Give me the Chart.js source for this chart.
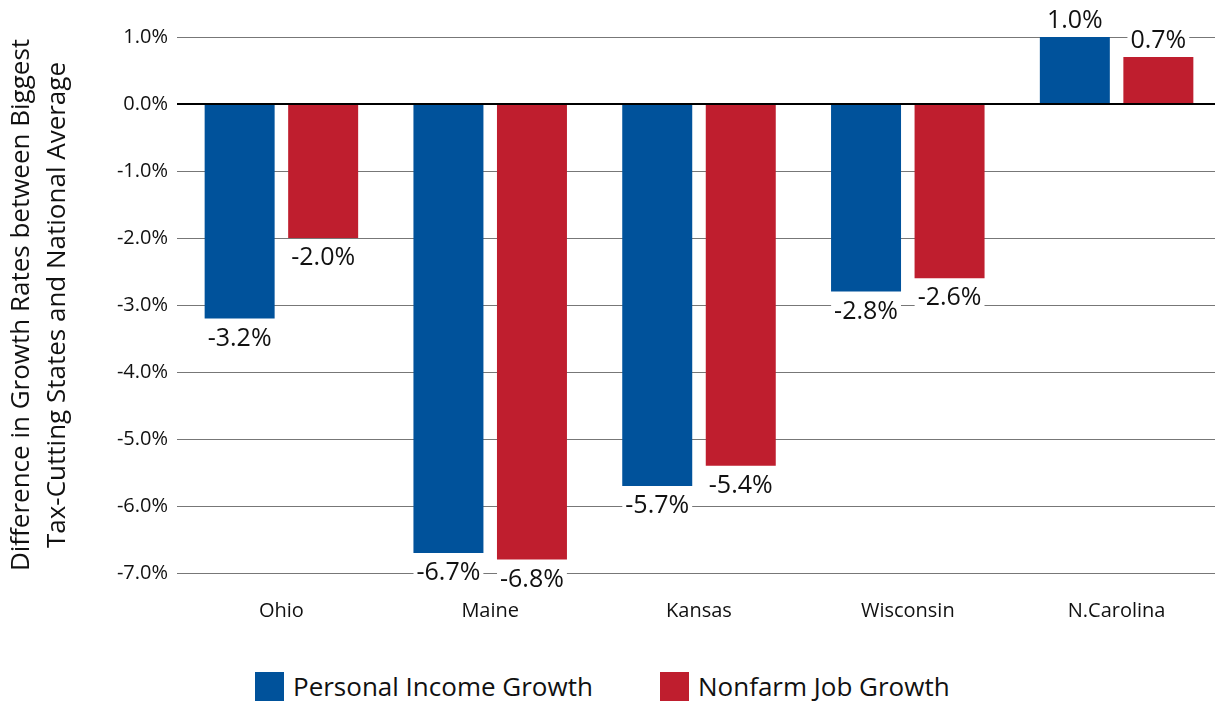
<!DOCTYPE html>
<html>
<head>
<meta charset="utf-8">
<script src="https://cdn.jsdelivr.net/npm/chart.js@4"></script>
<style>
  html, body { margin: 0; padding: 0; background: #fff; overflow: hidden; font-family: 'Open Sans', sans-serif; }
  #wrap { width: 1221px; height: 663px; }
  #legend { position: absolute; top: 672px; left: 0; width: 1215px; height: 32px; }
  .item { position: absolute; top: 0; display: flex; align-items: center; font-size: 26px; color: #111; line-height: 29px; }
  .swatch { width: 29px; height: 29px; margin-right: 9px; }
</style>
</head>
<body>
<div id="wrap"><canvas id="chart"></canvas></div>
<div id="legend"></div>
<script>
// States and series values (difference vs national average, %)
const states = ["Ohio", "Maine", "Kansas", "Wisconsin", "N.Carolina"];
const incomeGrowth = [-3.2, -6.7, -5.7, -2.8, 1.0];
const jobGrowth = [-2.0, -6.8, -5.4, -2.6, 0.7];
const seriesNames = ["Personal Income Growth", "Nonfarm Job Growth"];
const seriesColors = ["#00529b", "#bf1e2e"];
const axisTitle = ["Difference in Growth Rates between Biggest", "Tax-Cutting States and National Average"];

const FONT = "'Open Sans', sans-serif";

// value labels with white background, under negative bars / over positive ones
const barLabels = {
    id: "barLabels",
    afterDatasetsDraw(chart) {
        const ctx = chart.ctx;
        ctx.save();
        ctx.font = "25px " + FONT;
        ctx.textAlign = "center";
        chart.data.datasets.forEach((ds, i) => {
            chart.getDatasetMeta(i).data.forEach((bar, j) => {
                const v = ds.data[j];
                const txt = v.toFixed(1) + "%";
                const w = ctx.measureText(txt).width + 6;
                const h = 28;
                const top = v < 0 ? bar.y + 5 : bar.y - 3 - h;
                ctx.fillStyle = "#fff";
                ctx.fillRect(bar.x - w / 2, top, w, h);
                ctx.fillStyle = "#111";
                ctx.textBaseline = "middle";
                ctx.fillText(txt, bar.x, top + h / 2 + 1);
            });
        });
        ctx.restore();
    }
};

const chart = new Chart(document.getElementById("chart"), {
    type: "bar",
    data: {
        labels: states,
        datasets: [
            { label: seriesNames[0], data: incomeGrowth, backgroundColor: seriesColors[0] },
            { label: seriesNames[1], data: jobGrowth, backgroundColor: seriesColors[1] }
        ]
    },
    options: {
        responsive: true,
        maintainAspectRatio: false,
        animation: false,
        categoryPercentage: 0.8,
        barPercentage: 0.838,
        layout: { padding: { top: 37, right: 0, left: 0, bottom: 14 } },
        scales: {
            x: {
                grid: { display: false, drawTicks: false },
                border: { display: false },
                ticks: { color: "#111", font: { family: FONT, size: 20 }, padding: 26 }
            },
            y: {
                min: -7,
                max: 1,
                ticks: {
                    stepSize: 1,
                    color: "#111",
                    font: { family: FONT, size: 20 },
                    padding: 9,
                    callback: v => v.toFixed(1) + "%"
                },
                grid: {
                    drawTicks: false,
                    color: c => c.tick && c.tick.value === 0 ? "#000" : "#777",
                    lineWidth: c => c.tick && c.tick.value === 0 ? 2 : 1
                },
                border: { display: false },
                title: {
                    display: true,
                    text: axisTitle,
                    color: "#111",
                    font: { family: FONT, size: 26, lineHeight: 1.38 },
                    padding: { top: 4, bottom: 0 }
                },
                afterFit(scale) { scale.width = 177; }
            }
        },
        plugins: {
            legend: { display: false },
            tooltip: { enabled: false }
        }
    },
    plugins: [barLabels]
});

// HTML legend under the chart
const legendLeft = [255, 660];
const legend = document.getElementById("legend");
seriesNames.forEach((name, i) => {
    const item = document.createElement("div");
    item.className = "item";
    item.style.left = legendLeft[i] + "px";
    item.innerHTML = '<span class="swatch" style="background:' + seriesColors[i] + '"></span><span>' + name + '</span>';
    legend.appendChild(item);
});
</script>
</body>
</html>
